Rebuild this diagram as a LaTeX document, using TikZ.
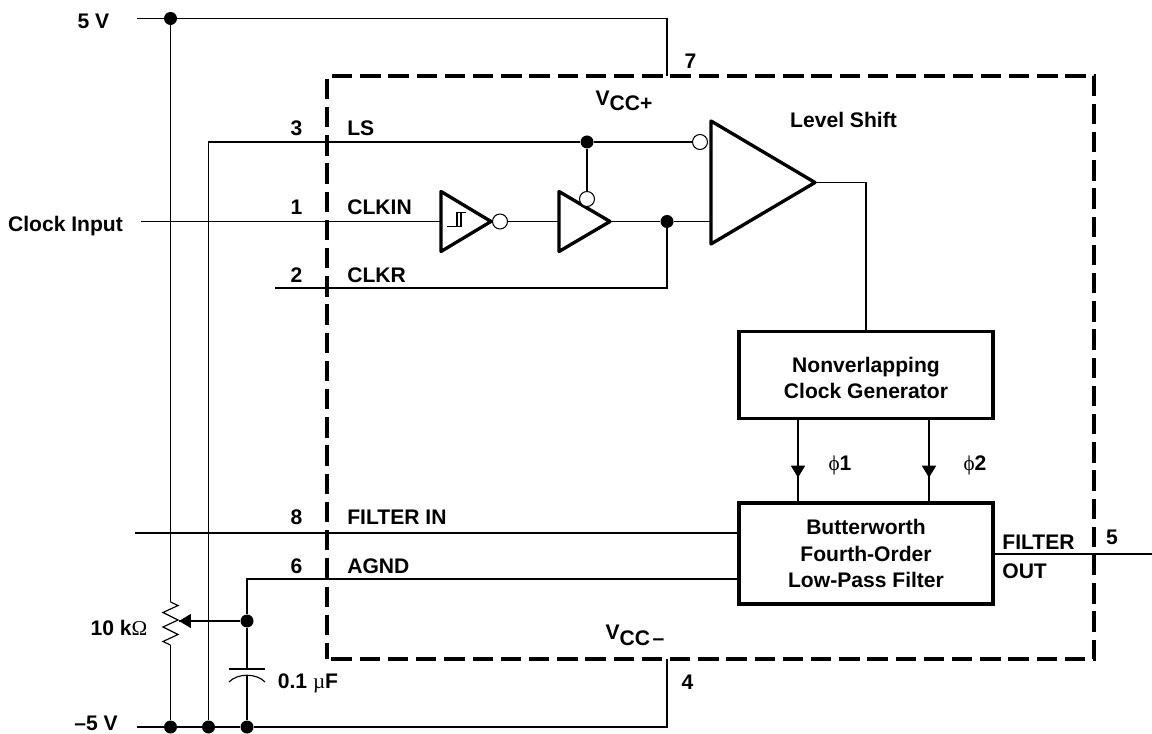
\documentclass[tikz,border=0pt]{standalone}
\usepackage{fontspec}
\setmainfont{Liberation Sans}
\newfontfamily\symb{Liberation Serif}
\usetikzlibrary{calc,arrows.meta,shapes.geometric,decorations.markings}
\tikzset{arr/.style = {decoration={markings, mark=at position #1 with {\arrow{Triangle[length=6.8pt,width=8pt]}}}, postaction={decorate}}}
\tikzset{circ/.style = {fill, circle, inner sep = 0, minimum size = 0.26cm}}
\tikzset{bubble/.style = {draw, fill = white, circle, inner sep = 0, minimum size = 0.3cm, line width = 0.6pt}}
\tikzset{wire/.style = {line width = 0.65pt}}
\tikzset{gate/.style = {draw, isosceles triangle, isosceles triangle stretches, inner sep = 0, outer sep = 0, anchor = lower side, line width = 1.9pt, line join = round}}
\tikzset{block/.style = {draw, line width = 1.9pt, align = center, inner sep = 0, outer sep = 0}}
\tikzset{lbl/.style = {font = \bfseries\fontsize{12}{15}\selectfont, inner sep = 0, align = center}}

\begin{document}
\begin{tikzpicture}
    \useasboundingbox (0,0) rectangle (23.04,14.66);
    % package outline
    \node [draw, line width = 1.9pt, dash pattern = on 11.6pt off 4.45pt, dash phase = 13.5pt, minimum width = 15.34cm, minimum height = 11.66cm] (chip) at (14.21,7.31) {};
    % gates and blocks
    \node [gate, minimum width = 1.2cm, minimum height = 1.0cm] (inv) at (8.82,10.23) {};
    \node [gate, minimum width = 1.2cm, minimum height = 1.02cm] (buf) at (11.18,10.23) {};
    \node [gate, minimum width = 2.46cm, minimum height = 2.08cm] (shift) at (14.22,11.01) {};
    \node [block, lbl, minimum width = 5.08cm, minimum height = 1.74cm] (gen) at (17.32,7.16) {\rule{0pt}{12pt}Nonverlapping\\Clock Generator};
    \node [block, lbl, minimum width = 5.08cm, minimum height = 2.02cm] (filt) at (17.32,3.59) {Butterworth\\Fourth-Order\\Low-Pass Filter};
    % junctions and bubbles
    \node [circ] (top) at (3.41,14.29) {};
    \node [circ] (botr) at (3.41,0.12) {};
    \node [circ] (botl) at (4.17,0.12) {};
    \node [circ] (botc) at (4.94,0.12) {};
    \node [circ] (tap) at (4.94,2.24) {};
    \node [circ] (lsj) at (11.74,11.82) {};
    \node [circ] (clkj) at (13.34,10.23) {};
    \node [bubble] (invb) at (10.0,10.23) {};
    \node [bubble] (bufb) at (11.74,10.68) {};
    \node [bubble] (shiftb) at (14.0,11.82) {};
    % free ends of the wires
    \coordinate (vp) at (2.74,14.29);
    \coordinate (vm) at (2.74,0.12);
    \coordinate (vpc) at (13.34,14.29);
    \coordinate (vmc) at (13.34,0.12);
    \coordinate (pin7) at (13.34,13.14);
    \coordinate (pin4) at (13.34,1.48);
    \coordinate (lsc) at (4.17,11.82);
    \coordinate (clkin) at (2.82,10.23);
    \coordinate (clkr) at (5.50,8.90);
    \coordinate (fin) at (2.70,4.00);
    \coordinate (fout) at (23.04,3.58);
    \coordinate (agc) at (4.94,3.08);
    \coordinate (rtop) at (3.41,2.62);
    \coordinate (rbot) at (3.41,1.76);
    \coordinate (wiper) at (3.58,2.24);
    \coordinate (plate) at (4.94,1.28);
    \coordinate (curve) at (4.94,1.155);
    % supplies
    \draw [wire] (vp) -- (top) -- (vpc) -- (pin7);
    \draw [wire] (vm) -- (botr) -- (botl) -- (botc) -- (vmc) -- (pin4);
    \draw [wire] (top) -- (rtop);
    \draw [wire] (rbot) -- (botr);
    \draw [wire] (rtop) -- (3.56,2.55) -- (3.26,2.41) -- (3.56,2.26) -- (3.26,2.12) -- (3.56,1.97) -- (3.26,1.83) -- (rbot);
    \draw [wire, arr = 1] (tap) -- (wiper);
    \draw [wire] (botl) -- (lsc) -- (lsj) -- (shiftb);
    \draw [wire] (lsj) -- (bufb);
    % clock path
    \draw [wire] (clkin) -- (inv.lower side);
    \draw [wire] (invb) -- (buf.lower side);
    \draw [wire] (buf.apex) -- (clkj) -- (clkj -| shift.lower side);
    \draw [wire] (clkr) -- (clkj |- clkr) -- (clkj);
    \draw [wire] (shift.apex) -| (gen.north);
    \draw [line width = 0.6pt] (8.94,10.13) -- (9.22,10.13) -- (9.22,10.41);
    \draw [line width = 0.6pt] (9.14,10.13) -- (9.14,10.41) -- (9.32,10.41);
    % filter
    \draw [wire, arr = 0.7] (gen.south -| 15.96,0) -- (filt.north -| 15.96,0);
    \draw [wire, arr = 0.7] (gen.south -| 18.58,0) -- (filt.north -| 18.58,0);
    \draw [wire] (fin) -- (fin -| filt.west);
    \draw [wire] (tap) -- (agc) -- (agc -| filt.west);
    \draw [wire] (filt.east |- fout) -- (fout);
    \draw [wire] (tap) -- (plate);
    \draw [wire] (curve) -- (botc);
    \draw [wire] (4.58,1.28) -- (5.30,1.28);
    \draw [wire] (4.58,1.02) .. controls (4.75,1.2) and (5.13,1.2) .. (5.30,1.02);
    % labels
    \node [lbl] (l5v) at (1.87,14.24) {5 V};
    \node [lbl] (l7) at (13.81,13.44) {7};
    \node [lbl] (lvp) at (12.48,12.64) {V\raisebox{-3.2pt}{CC+}};
    \node [lbl] (lshift) at (16.87,12.27) {Level Shift};
    \node [lbl] (l3) at (5.93,12.10) {3};
    \node [lbl, anchor = west] (lls) at (6.94,12.10) {LS};
    \node [lbl] (l1) at (5.93,10.51) {1};
    \node [lbl, anchor = west] (lclkin) at (6.94,10.51) {CLKIN};
    \node [lbl] (l2) at (5.93,9.15) {2};
    \node [lbl, anchor = west] (lclkr) at (6.94,9.15) {CLKR};
    \node [lbl] (lclock) at (1.31,10.14) {Clock Input};
    \node [lbl] (l8) at (5.93,4.31) {8};
    \node [lbl, anchor = west] (lfin) at (6.94,4.31) {FILTER IN};
    \node [lbl] (l6) at (5.93,3.33) {6};
    \node [lbl, anchor = west] (lagnd) at (6.94,3.33) {AGND};
    \node [lbl] (lres) at (2.38,2.10) {10 k{\symb\mdseries Ω}};
    \node [lbl] (lcap) at (6.16,1.00) {0.1 {\symb\mdseries µ}F};
    \node [lbl] (lvm) at (1.92,0.19) {–5 V};
    \node [lbl] (lvn) at (12.70,1.95) {V\raisebox{-3.2pt}{CC\kern1.5pt –}};
    \node [lbl] (l4) at (13.75,1.02) {4};
    \node [lbl] (l5) at (22.24,3.92) {5};
    \node [lbl, anchor = west] (lfo) at (20.04,3.82) {FILTER};
    \node [lbl, anchor = west] (lout) at (20.04,3.24) {OUT};
    \node [lbl] (lp1) at (16.80,5.36) {{\symb\mdseries ϕ}1};
    \node [lbl] (lp2) at (19.50,5.36) {{\symb\mdseries ϕ}2};
  \end{tikzpicture}
\end{document}
